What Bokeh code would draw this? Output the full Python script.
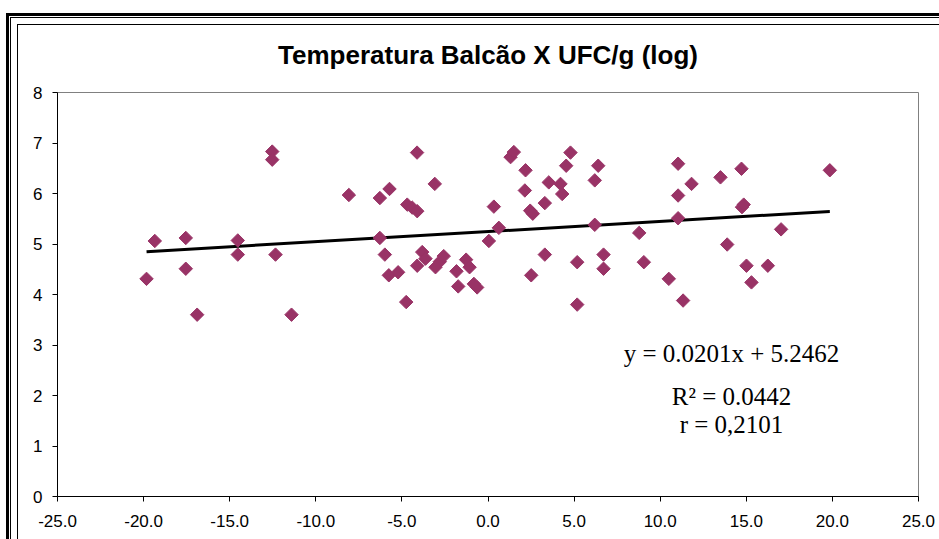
import numpy as np
from bokeh.plotting import figure
from bokeh.models import FixedTicker, NumeralTickFormatter, Label, ColumnDataSource
from bokeh.embed import file_html
from bokeh.resources import INLINE

# ---- data ----
temp = [-19.83, -19.35, -17.55, -17.55, -16.89, -14.53, -14.53, -12.53, -12.53, -12.34, -11.41,
        -8.08, -6.28, -5.72, -6.28, -5.99, -5.76, -5.22, -4.75, -4.69, -4.40, -4.11, -4.12, -3.09,
        -3.82, -4.11, -3.63, -2.80, -2.57, -3.05, -1.83, -1.73, -1.27, -1.07, -0.82, -0.63, 0.05,
        0.34, 0.63,
        1.31, 1.50, 2.18, 2.14, 2.45, 2.60, 3.30, 3.53, 4.21, 4.31, 4.54, 4.79, 6.40, 6.20, 6.20,
        8.78, 3.30, 5.18, 6.71, 6.71, 9.05, 2.51, 5.18,
        11.04, 11.82, 11.04, 13.50, 14.72, 19.85, 14.75, 14.85, 11.04, 17.02, 13.89, 15.01, 16.25,
        15.30, 10.50, 11.33]
ufc = [4.31, 5.06, 5.12, 4.51, 3.60, 5.07, 4.79, 6.83, 6.67, 4.79, 3.60,
       5.97, 5.91, 6.09, 5.12, 4.79, 4.38, 4.44, 3.85, 5.78, 5.72, 5.65, 6.81, 6.19,
       4.84, 4.57, 4.71, 4.65, 4.76, 4.54, 4.46, 4.16, 4.69, 4.54, 4.21, 4.14, 5.06,
       5.74, 5.32,
       6.72, 6.82, 6.46, 6.06, 5.66, 5.60, 5.81, 6.22, 6.19, 5.99, 6.55, 6.81, 6.55, 6.26, 5.38,
       5.22, 4.79, 4.64, 4.79, 4.51, 4.64, 4.38, 3.80,
       6.59, 6.19, 5.96, 6.32, 6.49, 6.46, 5.73, 5.78, 5.51, 5.29, 4.99, 4.57, 4.57,
       4.24, 4.31, 3.88]

slope = 0.0201
intercept = 5.2462
eq_lines = ["y = 0.0201x + 5.2462", "R\u00b2 = 0.0442", "r = 0,2101"]
title_text = "Temperatura Balcão X UFC/g (log)"
x_ticks = [-25, -20, -15, -10, -5, 0, 5, 10, 15, 20, 25]
y_ticks = [0, 1, 2, 3, 4, 5, 6, 7, 8]

W, H = 939, 539
FL, FR, FT, FB = 57, 918, 92, 496   # plot frame edges in canvas pixels
X0, X1, Y0, Y1 = -25, 25, 0, 8

# ---- figure ----
p = figure(width=W, height=H, x_range=(X0, X1), y_range=(Y0, Y1),
           output_backend="svg", toolbar_location=None,
           min_border_left=FL, min_border_right=W - FR, min_border_top=FT,
           min_border_bottom=H - FB)

p.title.text = title_text
p.title.align = "center"
p.title.text_font = "Liberation Sans"
p.title.text_font_size = "26px"
p.title.text_font_style = "bold"
p.title.text_color = "black"
p.title.standoff = 46

p.background_fill_color = "white"
p.border_fill_color = None
p.outline_line_color = "#808080"
p.outline_line_width = 1
p.grid.visible = False

# Excel-like double border of the chart area, drawn behind the transparent canvas border
layers = [(6, 13, 3, 700), (6, 13, 1200, 3), (10, 17, 1, 700), (10, 17, 1200, 1),
          (17, 24, 1, 700), (17, 24, 1200, 1)]
bg = ", ".join(f"linear-gradient(#000, #000) {x}px {y}px / {w}px {h}px no-repeat"
               for x, y, w, h in layers)
p.styles = {"background": bg + ", #ffffff"}

for ax in (p.xaxis[0], p.yaxis[0]):
    ax.axis_line_color = "black"
    ax.axis_line_width = 1
    ax.major_tick_line_color = "black"
    ax.major_tick_out = 5
    ax.major_tick_in = 0
    ax.minor_tick_line_color = None
    ax.major_label_text_font = "Liberation Sans"
    ax.major_label_text_font_size = "17px"
    ax.major_label_text_color = "black"

p.xaxis.ticker = FixedTicker(ticks=x_ticks)
p.xaxis.formatter = NumeralTickFormatter(format="0.0")
p.xaxis.major_label_standoff = 13
p.yaxis.ticker = FixedTicker(ticks=y_ticks)
p.yaxis.major_label_standoff = 10

# trend line
xs = np.array([min(temp), max(temp)])
p.line(xs, slope * xs + intercept, line_color="black", line_width=3)

# points
src = ColumnDataSource(dict(x=temp, y=ufc))
p.scatter("x", "y", source=src, marker="square", angle=np.pi / 4, size=9.5,
          fill_color="#993366", line_color="#993366")

# equation text
eq_y = [2.83, 1.99, 1.43]
for t, yy in zip(eq_lines, eq_y):
    p.add_layout(Label(x=14.14, y=yy, text=t, text_align="center", text_baseline="alphabetic",
                       text_font="Liberation Serif", text_font_size="25px", text_color="black"))

open("out.html", "w").write(file_html(p, INLINE))
